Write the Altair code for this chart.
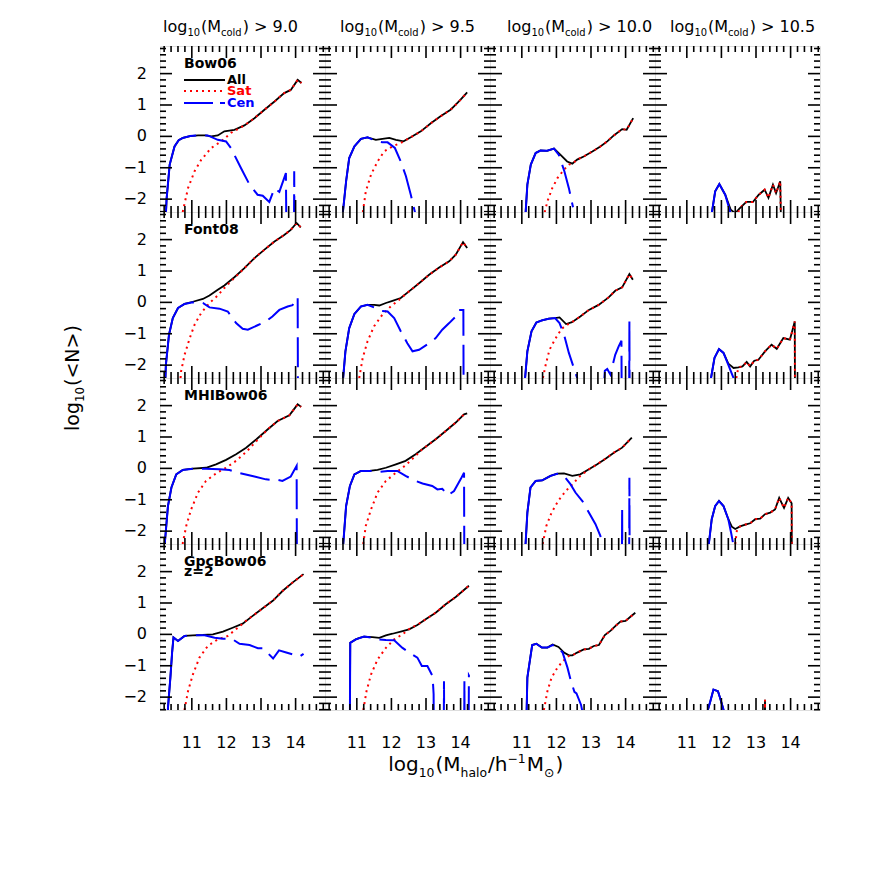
import altair as alt
import pandas as pd

FONT = "DejaVu Sans"
XDOM = [10.08, 14.85]
YDOM = [-2.41, 2.88]
W, H = 165, 166

X_MAJOR = [11, 12, 13, 14]
X_LABELS = ["11", "12", "13", "14"]
X_MINOR = [10.2, 10.4, 10.6, 10.8, 11.2, 11.4, 11.6, 11.8, 12.2, 12.4, 12.6, 12.8,
           13.2, 13.4, 13.6, 13.8, 14.2, 14.4, 14.6, 14.8]
Y_MAJOR = [-2, -1, 0, 1, 2]
Y_LABELS = ["\u22122", "\u22121", "0", "1", "2"]
Y_MINOR = [-2.4, -2.2, -1.8, -1.6, -1.4, -1.2, -0.8, -0.6, -0.4, -0.2, 0.2, 0.4, 0.6, 0.8,
           1.2, 1.4, 1.6, 1.8, 2.2, 2.4, 2.6, 2.8]

ROW_NAMES = ["Bow06", "Font08", "MHIBow06", "GpcBow06"]
COL_CUTS = ["9.0", "9.5", "10.0", "10.5"]

# ---------------- data: (log10 Mhalo, log10 <N>) ----------------
CEN_0_0 = [(10.25, -2.5), (10.27, -2.0), (10.36, -0.90), (10.50, -0.32), (10.62, -0.12), (10.74, -0.05),
           (10.95, 0.01), (11.18, 0.03), (11.46, 0.03), (11.75, -0.11), (11.99, -0.16), (12.13, -0.37),
           (12.42, -1.01), (12.67, -1.54), (12.90, -1.86), (13.05, -1.89), (13.24, -2.09), (13.39, -1.65),
           (13.53, -1.77), (13.72, -1.17), (13.74, -4), (13.95, -4), (13.96, -1.11), (13.97, -4)]
ALL_0_0 = [(11.18, 0.03), (11.40, 0.03), (11.56, 0.0), (11.75, 0.03), (11.94, 0.16), (12.23, 0.21),
           (12.52, 0.35), (12.81, 0.58), (13.10, 0.85), (13.39, 1.11), (13.67, 1.38), (13.86, 1.48),
           (14.06, 1.80), (14.17, 1.70)]
SAT_0_0 = [(10.72, -2.6), (10.74, -2.39), (10.89, -1.65), (11.08, -1.11), (11.27, -0.75), (11.56, -0.37),
           (11.85, -0.16), (12.13, 0.11), (12.42, 0.29)]

CEN_0_1 = [(10.58, -2.6), (10.69, -1.43), (10.78, -0.69), (10.93, -0.32), (11.12, -0.08), (11.31, -0.03),
           (11.55, -0.14), (11.74, -0.19), (11.89, -0.19), (12.10, -0.37), (12.27, -0.80), (12.42, -1.27),
           (12.56, -1.86), (12.72, -2.6)]
ALL_0_1 = [(11.31, -0.03), (11.55, -0.11), (11.74, -0.08), (11.94, -0.05), (12.13, -0.11), (12.35, -0.16),
           (12.56, -0.03), (12.85, 0.16), (13.14, 0.42), (13.42, 0.64), (13.71, 0.85), (13.86, 1.01),
           (14.00, 1.17), (14.19, 1.40)]
SAT_0_1 = [(11.15, -2.6), (11.26, -1.75), (11.41, -1.22), (11.60, -0.80), (11.79, -0.48), (12.03, -0.32),
           (12.27, -0.21), (12.40, -0.13)]

CEN_0_2 = [(11.10, -2.6), (11.16, -1.54), (11.26, -0.90), (11.40, -0.53), (11.54, -0.45), (11.73, -0.46),
           (11.93, -0.39), (12.07, -0.59), (12.23, -1.11), (12.36, -1.65), (12.48, -2.26)]
ALL_0_2 = [(11.93, -0.39), (12.12, -0.59), (12.31, -0.80), (12.46, -0.87), (12.60, -0.74), (12.79, -0.64),
           (13.04, -0.48), (13.27, -0.32), (13.47, -0.16), (13.66, 0.03), (13.90, 0.23), (14.03, 0.21),
           (14.22, 0.58)]
SAT_0_2 = [(11.62, -2.6), (11.74, -2.07), (11.88, -1.65), (12.03, -1.33), (12.22, -1.06), (12.36, -0.90),
           (12.46, -0.87)]

CEN_0_3 = [(11.70, -2.6), (11.82, -1.75), (11.94, -1.52), (12.11, -1.86), (12.25, -2.39), (12.27, -2.6)]
ALL_0_3 = [(11.94, -1.52), (12.11, -1.86), (12.27, -2.34), (12.40, -2.45), (12.52, -2.30), (12.72, -2.09),
           (12.91, -2.09), (13.08, -1.86), (13.25, -1.70), (13.36, -1.96), (13.49, -1.54), (13.58, -1.81),
           (13.70, -1.43), (13.72, -2.6)]
SAT_0_3 = [(12.45, -2.6), (12.52, -2.30)]

CEN_1_0 = [(10.23, -2.6), (10.25, -1.99), (10.34, -1.03), (10.45, -0.50), (10.60, -0.18), (10.79, -0.05),
           (11.03, 0.0), (11.32, -0.02), (11.51, -0.16), (11.80, -0.20), (12.04, -0.29), (12.28, -0.66),
           (12.47, -0.84), (12.62, -0.87), (12.90, -0.73), (13.14, -0.61), (13.33, -0.45), (13.53, -0.24),
           (13.77, -0.13), (13.91, -0.09), (14.06, 0.16), (14.07, -4)]
ALL_1_0 = [(11.03, 0.02), (11.32, 0.11), (11.51, 0.22), (11.75, 0.40), (11.94, 0.54), (12.23, 0.80),
           (12.52, 1.09), (12.81, 1.41), (13.10, 1.68), (13.39, 1.94), (13.67, 2.15), (13.86, 2.31),
           (14.03, 2.53), (14.15, 2.39)]
SAT_1_0 = [(10.66, -2.6), (10.69, -2.2), (10.79, -1.67), (10.94, -1.14), (11.08, -0.71), (11.27, -0.34),
           (11.51, -0.02), (11.75, 0.22), (11.94, 0.46), (12.23, 0.78)]

CEN_1_1 = [(10.59, -2.6), (10.67, -1.56), (10.78, -0.82), (10.93, -0.37), (11.12, -0.13), (11.31, -0.08),
           (11.50, -0.16), (11.69, -0.27), (11.89, -0.29), (12.08, -0.50), (12.27, -0.92), (12.46, -1.30),
           (12.61, -1.56), (12.80, -1.51), (13.09, -1.30), (13.28, -1.14), (13.47, -0.87), (13.67, -0.66),
           (13.86, -0.45), (13.95, -0.24), (14.08, -0.24), (14.09, -4)]
ALL_1_1 = [(11.31, -0.08), (11.50, -0.08), (11.65, -0.10), (11.84, -0.02), (12.03, 0.05), (12.27, 0.14),
           (12.51, 0.35), (12.80, 0.61), (13.09, 0.88), (13.38, 1.11), (13.67, 1.31), (13.86, 1.52),
           (14.07, 1.92), (14.19, 1.73)]
SAT_1_1 = [(11.05, -2.6), (11.07, -2.41), (11.17, -1.77), (11.31, -1.24), (11.50, -0.76), (11.74, -0.39),
           (11.98, -0.13), (12.22, 0.08), (12.40, 0.25)]

CEN_1_2 = [(11.08, -2.6), (11.16, -1.56), (11.28, -0.92), (11.42, -0.64), (11.59, -0.57), (11.78, -0.52),
           (11.96, -0.50), (12.09, -0.66), (12.22, -1.03), (12.36, -1.61), (12.60, -2.41), (12.62, -4),
           (13.30, -4), (13.40, -2.18), (13.47, -2.12), (13.56, -2.30), (13.70, -1.67), (13.80, -1.40),
           (13.88, -1.22), (13.89, -4), (14.10, -4), (14.11, -0.61), (14.12, -4)]
ALL_1_2 = [(11.96, -0.50), (12.09, -0.48), (12.28, -0.69), (12.45, -0.63), (12.69, -0.45), (12.94, -0.24),
           (13.22, -0.08), (13.51, 0.16), (13.70, 0.37), (13.90, 0.48), (14.11, 0.90), (14.21, 0.72)]
SAT_1_2 = [(11.59, -2.6), (11.61, -2.41), (11.69, -1.99), (11.80, -1.51), (11.98, -1.14), (12.15, -0.84),
           (12.32, -0.71), (12.45, -0.63)]

CEN_1_3 = [(11.68, -2.6), (11.70, -2.41), (11.80, -1.77), (11.93, -1.49), (12.06, -1.61), (12.20, -1.99),
           (12.35, -2.41), (12.37, -2.6)]
ALL_1_3 = [(11.93, -1.49), (12.06, -1.61), (12.20, -1.95), (12.35, -2.09), (12.49, -2.07), (12.61, -2.04),
           (12.73, -1.90), (12.83, -2.04), (12.95, -1.86), (13.07, -1.83), (13.26, -1.56), (13.45, -1.35),
           (13.60, -1.48), (13.79, -1.14), (13.98, -1.19), (14.12, -0.61), (14.13, -4)]
SAT_1_3 = [(12.40, -2.6), (12.49, -2.07)]

CEN_2_0 = [(10.21, -2.6), (10.22, -2.37), (10.31, -1.20), (10.41, -0.61), (10.55, -0.19), (10.74, -0.05),
           (11.03, -0.01), (11.41, -0.01), (11.80, -0.03), (12.09, -0.05), (12.33, -0.14), (12.81, -0.26),
           (13.14, -0.35), (13.33, -0.37), (13.43, -0.35), (13.62, -0.40), (13.86, -0.26), (14.03, 0.08),
           (14.04, -4)]
ALL_2_0 = [(11.03, -0.01), (11.41, 0.02), (11.70, 0.13), (11.99, 0.27), (12.28, 0.45), (12.57, 0.66),
           (12.86, 0.92), (13.19, 1.24), (13.48, 1.51), (13.82, 1.69), (14.06, 2.04), (14.16, 1.96)]
SAT_2_0 = [(10.72, -2.6), (10.74, -2.37), (10.84, -1.83), (10.98, -1.31), (11.18, -0.77), (11.41, -0.40),
           (11.70, -0.16), (11.99, 0.02), (12.28, 0.24), (12.57, 0.52), (12.86, 0.86)]

CEN_2_1 = [(10.60, -2.6), (10.61, -2.37), (10.69, -1.20), (10.80, -0.56), (10.93, -0.19), (11.12, -0.08),
           (11.36, -0.08), (11.65, -0.11), (11.89, -0.08), (12.17, -0.08), (12.41, -0.24), (12.70, -0.40),
           (12.90, -0.48), (13.18, -0.56), (13.33, -0.67), (13.47, -0.65), (13.64, -0.86), (13.81, -0.72),
           (14.00, -0.35), (14.10, -0.14), (14.11, -4)]
ALL_2_1 = [(11.36, -0.08), (11.60, -0.05), (11.84, 0.02), (12.13, 0.13), (12.41, 0.24), (12.70, 0.45),
           (12.99, 0.69), (13.28, 0.93), (13.57, 1.19), (13.86, 1.46), (14.10, 1.72), (14.19, 1.75)]
SAT_2_1 = [(11.17, -2.6), (11.19, -2.37), (11.26, -1.83), (11.41, -1.31), (11.60, -0.77), (11.84, -0.40),
           (12.13, -0.14), (12.41, 0.10), (12.70, 0.40), (12.90, 0.62)]

CEN_2_2 = [(11.09, -2.6), (11.11, -2.37), (11.16, -1.41), (11.25, -0.61), (11.40, -0.40), (11.59, -0.38),
           (11.83, -0.24), (12.02, -0.17), (12.22, -0.24), (12.41, -0.51), (12.55, -0.77), (12.75, -1.04),
           (12.89, -1.31), (13.13, -1.78), (13.27, -2.15), (13.32, -2.45), (13.33, -4), (13.89, -4),
           (13.90, -1.25), (13.91, -4), (14.10, -4), (14.11, -0.30), (14.12, -4)]
ALL_2_2 = [(12.02, -0.17), (12.22, -0.16), (12.46, -0.24), (12.69, -0.19), (12.94, -0.03), (13.18, 0.13),
           (13.42, 0.31), (13.66, 0.50), (13.90, 0.66), (14.04, 0.82), (14.18, 0.98)]
SAT_2_2 = [(11.59, -2.6), (11.61, -2.37), (11.71, -1.83), (11.86, -1.41), (12.05, -1.04), (12.27, -0.72),
           (12.46, -0.51), (12.69, -0.24)]

CEN_2_3 = [(11.62, -2.6), (11.64, -2.37), (11.72, -1.62), (11.82, -1.20), (11.93, -1.04), (12.06, -1.20),
           (12.20, -1.62), (12.28, -2.05), (12.34, -2.4), (12.36, -2.6)]
ALL_2_3 = [(11.93, -1.04), (12.06, -1.20), (12.20, -1.62), (12.30, -1.86), (12.40, -1.93), (12.54, -1.85),
           (12.69, -1.79), (12.83, -1.75), (12.98, -1.62), (13.12, -1.60), (13.26, -1.46), (13.41, -1.41),
           (13.55, -1.31), (13.67, -0.94), (13.81, -1.26), (13.93, -0.94), (14.03, -1.11), (14.04, -4)]
SAT_2_3 = [(12.38, -2.6), (12.45, -1.95)]

CEN_3_0 = [(10.30, -2.6), (10.31, -2.34), (10.38, -1.38), (10.43, -0.58), (10.47, -0.10), (10.60, -0.21),
           (10.79, -0.05), (11.03, -0.03), (11.37, -0.03), (11.66, -0.11), (11.90, -0.14), (12.14, -0.13),
           (12.38, -0.30), (12.67, -0.34), (12.91, -0.44), (13.06, -0.44), (13.35, -0.77), (13.52, -0.51),
           (13.73, -0.58), (13.92, -0.64), (14.11, -0.71), (14.23, -0.62)]
ALL_3_0 = [(11.03, -0.03), (11.32, -0.02), (11.61, 0.0), (11.90, 0.09), (12.18, 0.21), (12.47, 0.34),
           (12.76, 0.59), (13.05, 0.83), (13.34, 1.07), (13.63, 1.39), (13.91, 1.65), (14.23, 1.92)]
SAT_3_0 = [(10.78, -2.6), (10.79, -2.40), (10.89, -1.81), (11.03, -1.28), (11.22, -0.74), (11.46, -0.37),
           (11.75, -0.16), (12.04, -0.05), (12.33, 0.21), (12.62, 0.48)]

CEN_3_1 = [(10.80, -2.6), (10.81, -0.27), (10.97, -0.16), (11.21, -0.07), (11.45, -0.11), (11.65, -0.16),
           (11.84, -0.18), (12.08, -0.19), (12.32, -0.43), (12.51, -0.58), (12.75, -0.74), (12.88, -1.01),
           (13.04, -1.01), (13.19, -1.33), (13.22, -1.9), (13.23, -4), (13.51, -4), (13.52, -1.49),
           (13.53, -4), (14.10, -4), (14.11, -1.49), (14.12, -4), (14.23, -4), (14.24, -1.31), (14.25, -1.33)]
ALL_3_1 = [(10.97, -0.16), (11.08, -0.11), (11.21, -0.07), (11.45, -0.09), (11.65, -0.11), (11.84, -0.03),
           (12.03, 0.02), (12.27, 0.09), (12.51, 0.16), (12.75, 0.30), (12.99, 0.48), (13.28, 0.69),
           (13.57, 0.96), (13.86, 1.19), (14.24, 1.55)]
SAT_3_1 = [(11.18, -2.6), (11.19, -2.40), (11.28, -1.81), (11.41, -1.28), (11.60, -0.80), (11.84, -0.43),
           (12.08, -0.16), (12.32, 0.0), (12.56, 0.21)]

CEN_3_2 = [(11.13, -2.6), (11.14, -2.40), (11.16, -1.38), (11.23, -0.85), (11.30, -0.34), (11.42, -0.30),
           (11.58, -0.42), (11.74, -0.42), (11.89, -0.34), (12.03, -0.40), (12.18, -0.58), (12.32, -1.06),
           (12.42, -1.49), (12.52, -1.83), (12.58, -1.88), (12.71, -2.24), (12.75, -2.45), (12.76, -2.6)]
ALL_3_2 = [(11.89, -0.32), (12.06, -0.40), (12.22, -0.58), (12.36, -0.67), (12.46, -0.67), (12.60, -0.58),
           (12.79, -0.48), (12.94, -0.46), (13.08, -0.37), (13.23, -0.34), (13.40, -0.02), (13.56, 0.11),
           (13.71, 0.27), (13.85, 0.41), (14.00, 0.43), (14.14, 0.56), (14.28, 0.69)]
SAT_3_2 = [(11.63, -2.6), (11.64, -2.40), (11.74, -1.81), (11.86, -1.38), (12.03, -1.06), (12.19, -0.85),
           (12.36, -0.69)]

CEN_3_3 = [(11.60, -2.6), (11.61, -2.40), (11.68, -2.13), (11.77, -1.76), (11.90, -1.81), (11.96, -2.02),
           (12.06, -2.40), (12.07, -2.6)]
ALL_3_3 = [(11.77, -1.76), (11.90, -1.81), (11.96, -2.02), (12.06, -2.40), (12.07, -4), (13.25, -4),
           (13.26, -2.08), (13.27, -4)]
SAT_3_3 = [(13.25, -4), (13.26, -2.08), (13.27, -4)]

DATA = {(r, c): (globals()[f"CEN_{r}_{c}"], globals()[f"ALL_{r}_{c}"], globals()[f"SAT_{r}_{c}"])
        for r in range(4) for c in range(4)}

# ---------------- styles ----------------
BLUE, RED, BLACK = "#0000ff", "#ff0000", "#000000"
CEN_DASH = [95, 9] + [30, 9] * 25
SAT_DASH = [2, 4]
MAJ, MIN = 12, 6

# approximate DejaVu Sans advance widths (em)
CW = {' ': 0.318, '(': 0.390, ')': 0.390, '.': 0.318, '/': 0.337, '<': 0.838, '>': 0.838,
      '=': 0.838, '\u2212': 0.838, '-': 0.361, 'M': 0.863, 'N': 0.748, 'a': 0.613, 'c': 0.550,
      'd': 0.635, 'g': 0.635, 'h': 0.634, 'l': 0.278, 'o': 0.612, '\u2299': 0.838, 'z': 0.525}
for ch in "0123456789":
    CW[ch] = 0.636

DUMMY = pd.DataFrame({"d": [0]})
xs = alt.Scale(domain=XDOM, nice=False, zero=False)
ys = alt.Scale(domain=YDOM, nice=False, zero=False)


def txt(s, px, py, size, color=BLACK, weight="normal", angle=0, align="left", baseline="alphabetic"):
    return alt.Chart(DUMMY).mark_text(
        text=s, font=FONT, fontSize=size, fontWeight=weight, color=color, angle=angle,
        align=align, baseline=baseline).encode(x=alt.value(px), y=alt.value(py))


def rich(segs, px, py, fs, angle=0, anchor="center", weight="normal"):
    wf = 1.1 if weight == "bold" else 1.0
    parts = []
    for s, kind in segs:
        size = fs if kind == "n" else fs * 0.62
        w = sum(CW.get(ch, 0.6) for ch in s) * size * wf + (1.0 if kind != "n" else 0.0)
        off = 0.0 if kind == "n" else (0.28 * fs if kind == "sub" else -0.40 * fs)
        parts.append((s, size, w, off))
    total = sum(p[2] for p in parts)
    start = -total / 2 if anchor == "center" else 0.0
    out, cum = [], start
    for s, size, w, off in parts:
        if angle == 0:
            out.append(txt(s, px + cum, py + off, size, weight=weight))
        else:  # 270: text reads upward
            out.append(txt(s, px + off, py - cum, size, weight=weight, angle=270))
        cum += w
    return out


def line(pts, color, width, dash):
    df = pd.DataFrame(pts, columns=["x", "y"])
    df["i"] = range(len(df))
    kw = dict(color=color, strokeWidth=width, clip=True)
    if dash:
        kw["strokeDash"] = dash
    return alt.Chart(df).mark_line(**kw).encode(
        x=alt.X("x:Q", scale=xs, axis=None),
        y=alt.Y("y:Q", scale=ys, axis=None),
        order="i:Q")


def xticks(vals, y1, y2):
    return alt.Chart(pd.DataFrame({"v": vals})).mark_rule(color=BLACK, strokeWidth=1.6).encode(
        x=alt.X("v:Q", scale=xs, axis=None), y=alt.value(y1), y2=alt.value(y2))


def yticks(vals, x1, x2):
    return alt.Chart(pd.DataFrame({"v": vals})).mark_rule(color=BLACK, strokeWidth=1.6).encode(
        y=alt.Y("v:Q", scale=ys, axis=None), x=alt.value(x1), x2=alt.value(x2))


def xlabels():
    df = pd.DataFrame({"v": X_MAJOR, "t": X_LABELS})
    return alt.Chart(df).mark_text(font=FONT, fontSize=16, color=BLACK, baseline="middle",
                                   align="center").encode(
        x=alt.X("v:Q", scale=xs, axis=None), y=alt.value(H + 33), text="t:N")


def ylabels():
    df = pd.DataFrame({"v": Y_MAJOR, "t": Y_LABELS})
    return alt.Chart(df).mark_text(font=FONT, fontSize=16, color=BLACK, baseline="middle",
                                   align="right").encode(
        y=alt.Y("v:Q", scale=ys, axis=None), x=alt.value(-13), text="t:N")


def panel(r, c):
    cen, allv, sat = DATA[(r, c)]
    all_full = [p for p in cen if p[0] < allv[0][0]] + allv
    sat_full = sat + [p for p in allv if p[0] > sat[-1][0]]
    layers = [
        line(all_full, BLACK, 1.8, None),
        line(sat_full, RED, 2.0, SAT_DASH),
        line(cen, BLUE, 2.0, CEN_DASH),
        xticks(X_MAJOR, H, H - MAJ), xticks(X_MINOR, H, H - MIN),
        xticks(X_MAJOR, 0, MAJ), xticks(X_MINOR, 0, MIN),
        yticks(Y_MAJOR, 0, MAJ), yticks(Y_MINOR, 0, MIN),
        yticks(Y_MAJOR, W, W - MAJ), yticks(Y_MINOR, W, W - MIN),
    ]
    if r == 3:
        layers.append(xlabels())
    if c == 0:
        layers.append(ylabels())
        if r == 3:
            layers.append(txt("GpcBow06", 24, 22, 14, weight="bold"))
            layers.append(txt("z=2", 24, 32, 14, weight="bold"))
        else:
            layers.append(txt(ROW_NAMES[r], 24, 22, 14, weight="bold"))
    if r == 0 and c == 0:
        legend = [("All", BLACK, None, 34), ("Sat", RED, SAT_DASH, 45), ("Cen", BLUE, [29, 7], 57)]
        for name, col, dash, ly in legend:
            kw = dict(color=col, strokeWidth=2)
            if dash:
                kw["strokeDash"] = dash
            layers.append(alt.Chart(DUMMY).mark_rule(**kw).encode(
                x=alt.value(24), x2=alt.value(65), y=alt.value(ly)))
            layers.append(txt(name, 67, ly + 4, 13, color=col, weight="bold"))
    if r == 0:
        starts = [3, 15, 17, 15]
        layers += rich([("log", "n"), ("10", "sub"), ("(M", "n"), ("cold", "sub"),
                        (") > " + COL_CUTS[c], "n")], starts[c], -14, 16, anchor="left")
    if r == 1 and c == 0:
        layers += rich([("log", "n"), ("10", "sub"), ("(<N>)", "n")], -81, H, 19, angle=270)
    if r == 3 and c == 1:
        layers += rich([("log", "n"), ("10", "sub"), ("(M", "n"), ("halo", "sub"), ("/h", "n"),
                        ("\u22121", "sup"), ("M", "n"), ("\u2299", "sub"), (")", "n")],
                       150.7, 227, 20)
    return alt.layer(*layers).properties(width=W, height=H)


panels = [panel(r, c) for r in range(4) for c in range(4)]
chart = alt.concat(*panels, columns=4, spacing=0, bounds="flush").properties(
    padding={"left": 55, "top": 10, "right": 5, "bottom": 5}
).configure_view(stroke=BLACK, strokeWidth=2).configure(background="white")

chart.save("out.html", embed_options={"renderer": "svg", "actions": False})
